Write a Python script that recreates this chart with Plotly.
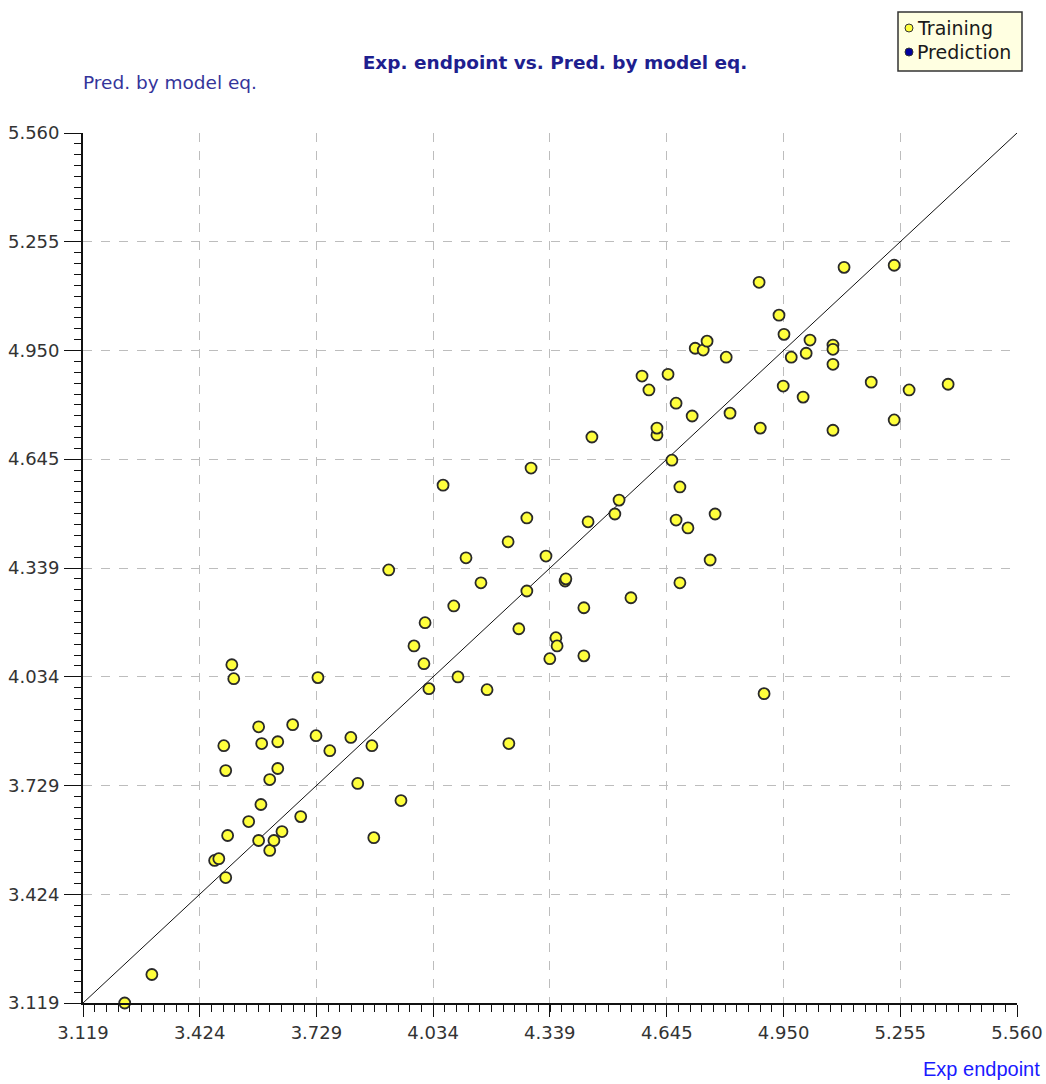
import plotly.graph_objects as go

# Experimental endpoint (x) vs. value predicted by the model equation (y)
exp_endpoint = [
    3.228, 3.299, 3.463, 3.474, 3.492, 3.497, 3.492, 3.487, 3.508, 3.513,
    3.552, 3.578, 3.584, 3.578, 3.586, 3.607, 3.618, 3.607, 3.628, 3.628,
    3.639, 3.667, 3.688, 3.728, 3.733, 3.764, 3.819, 3.837, 3.874, 3.879,
    3.950, 3.918, 3.984, 4.010, 4.013, 4.023, 4.060, 4.088, 4.099, 4.120,
    4.159, 4.175, 4.230, 4.232, 4.258, 4.279, 4.279, 4.290, 4.329, 4.339,
    4.355, 4.358, 4.379, 4.381, 4.428, 4.428, 4.439, 4.449, 4.509, 4.520,
    4.551, 4.580, 4.598, 4.619, 4.619, 4.648, 4.658, 4.669, 4.679, 4.669,
    4.679, 4.700, 4.711, 4.719, 4.740, 4.750, 4.758, 4.771, 4.800, 4.810,
    4.886, 4.889, 4.899, 4.938, 4.951, 4.949, 4.970, 5.001, 5.009, 5.019,
    5.079, 5.079, 5.079, 5.079, 5.108, 5.179, 5.239, 5.239, 5.278, 5.380,
]
pred_model_eq = [
    3.119, 3.199, 3.519, 3.524, 3.471, 3.589, 3.771, 3.841, 4.068, 4.029,
    3.628, 3.575, 3.676, 3.894, 3.847, 3.547, 3.575, 3.746, 3.777, 3.852,
    3.600, 3.900, 3.642, 3.869, 4.032, 3.827, 3.864, 3.735, 3.841, 3.583,
    3.687, 4.334, 4.121, 4.071, 4.186, 4.001, 4.572, 4.233, 4.034, 4.368,
    4.298, 3.998, 4.413, 3.847, 4.169, 4.275, 4.480, 4.620, 4.373, 4.085,
    4.144, 4.121, 4.303, 4.309, 4.228, 4.093, 4.469, 4.707, 4.491, 4.530,
    4.256, 4.878, 4.839, 4.713, 4.732, 4.883, 4.642, 4.802, 4.567, 4.474,
    4.298, 4.452, 4.766, 4.956, 4.951, 4.976, 4.362, 4.491, 4.931, 4.774,
    5.141, 4.732, 3.987, 5.049, 4.995, 4.850, 4.931, 4.819, 4.942, 4.979,
    4.965, 4.953, 4.911, 4.726, 5.183, 4.861, 5.189, 4.755, 4.839, 4.855,
]

# Axis tick labels (shared by both axes) and the y = x reference line
tick_labels = ["3.119", "3.424", "3.729", "4.034", "4.339",
               "4.645", "4.950", "5.255", "5.560"]
tick_values = [float(t) for t in tick_labels]
axis_min, axis_max = tick_values[0], tick_values[-1]
identity_line = [axis_min, axis_max]

# Legend entries: series name and marker fill
legend_names = ["Training", "Prediction"]
legend_colors = ["#ffff3c", "#0000a0"]

W, H = 1046, 1084
M_L, M_R, M_T, M_B = 83, 29, 133, 81
plot_w = W - M_L - M_R
plot_h = H - M_T - M_B


def px_to_paper(px, py):
    return (px - M_L) / plot_w, (H - M_B - py) / plot_h


fig = go.Figure()

fig.add_trace(go.Scatter(
    x=identity_line, y=identity_line, mode="lines",
    line=dict(color="#111111", width=1), showlegend=False, hoverinfo="skip",
))

fig.add_trace(go.Scatter(
    x=exp_endpoint, y=pred_model_eq, mode="markers", name=legend_names[0],
    cliponaxis=False, showlegend=False,
    marker=dict(size=11, color=legend_colors[0],
                line=dict(color="#2a2a2a", width=1.8)),
))

minor_step = (axis_max - axis_min) / 80
tick_font = dict(family="DejaVu Sans", size=18, color="#333333")

axis_common = dict(
    range=[axis_min, axis_max],
    tickmode="array", tickvals=tick_values, ticktext=tick_labels,
    ticks="outside", tickwidth=1.2, tickcolor="#111111",
    showline=True, linecolor="#111111", linewidth=1.8,
    showgrid=True, gridcolor="#bdbdbd", griddash="dash", gridwidth=1,
    zeroline=False, tickfont=tick_font,
)

fig.update_xaxes(
    **axis_common, ticklen=12, ticklabelstandoff=0,
    minor=dict(tick0=axis_min, dtick=minor_step, ticks="outside",
               ticklen=7, tickcolor="#111111", showgrid=False),
)
fig.update_yaxes(
    **axis_common, ticklen=17, ticklabelstandoff=1,
    minor=dict(tick0=axis_min, dtick=minor_step, ticks="outside",
               ticklen=7, tickcolor="#111111", showgrid=False),
)

ax_x, ax_y = px_to_paper(1042, 1069)
ay_x, ay_y = px_to_paper(81, 82)

annotations = [
    dict(text="Pred. by model eq.", xref="paper", yref="paper",
         x=ay_x, y=ay_y, xanchor="left", yanchor="middle", showarrow=False,
         font=dict(family="DejaVu Sans", size=18.5, color="#34349a")),
    dict(text="Exp endpoint", xref="paper", yref="paper",
         x=ax_x, y=ax_y, xanchor="right", yanchor="middle", showarrow=False,
         font=dict(family="Liberation Sans", size=20, color="#1a1aff")),
]

# Legend box drawn in the upper right corner
box_x0, box_y0 = px_to_paper(898, 12)
box_x1, box_y1 = px_to_paper(1022, 71)
shapes = [dict(type="rect", xref="paper", yref="paper",
               x0=box_x0, y0=box_y1, x1=box_x1, y1=box_y0,
               fillcolor="#ffffe1", line=dict(color="#333333", width=1.5),
               layer="above")]
for i, (name, color) in enumerate(zip(legend_names, legend_colors)):
    row_y = 28 + 24 * i
    mx, my = px_to_paper(909, row_y)
    shapes.append(dict(type="circle", xref="paper", yref="paper",
                       xsizemode="pixel", ysizemode="pixel",
                       xanchor=mx, yanchor=my, x0=-4, x1=4, y0=-4, y1=4,
                       fillcolor=color, line=dict(color="#333333", width=1),
                       layer="above"))
    tx, ty = px_to_paper(915, row_y)
    annotations.append(dict(text=name, xref="paper", yref="paper",
                            x=tx, y=ty, xanchor="left", yanchor="middle",
                            showarrow=False,
                            font=dict(family="DejaVu Sans", size=19,
                                      color="#1a1a1a")))

fig.update_layout(
    width=W, height=H,
    margin=dict(l=M_L, r=M_R, t=M_T, b=M_B, autoexpand=False),
    paper_bgcolor="white", plot_bgcolor="white",
    showlegend=False,
    title=dict(
        text="<b>Exp. endpoint vs. Pred. by model eq.</b>",
        x=555 / W, xref="container", xanchor="center",
        y=1 - 63 / H, yref="container", yanchor="middle",
        font=dict(family="DejaVu Sans", size=18.5, color="#1f1f8f"),
    ),
    annotations=annotations,
    shapes=shapes,
)

fig.write_html("out.html")
